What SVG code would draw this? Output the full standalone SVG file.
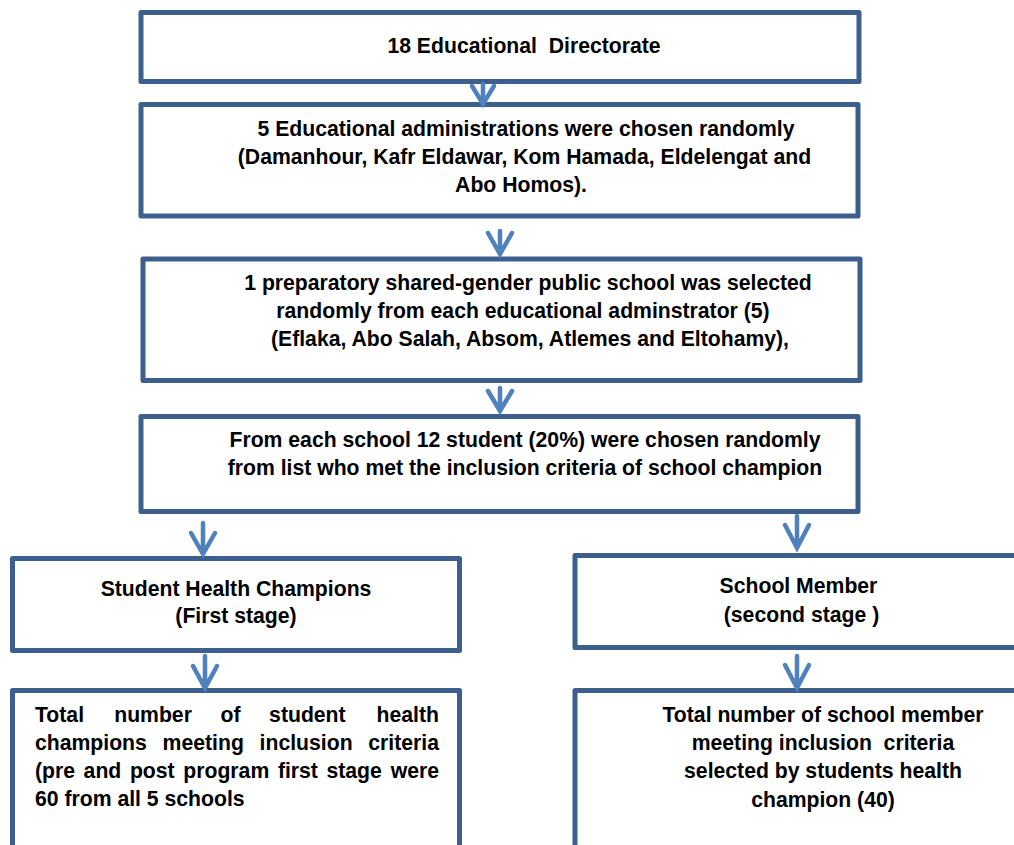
<svg xmlns="http://www.w3.org/2000/svg" width="1014" height="845" viewBox="0 0 1014 845">
<style>
.box{fill:#ffffff;stroke:#3C5F8E;stroke-width:5;stroke-linejoin:round}
.t{font-family:"Liberation Sans",Arial,sans-serif;font-weight:bold;font-size:21.2px;fill:#000000;white-space:pre}
.c{text-anchor:middle}
.arr{fill:none;stroke:#4F81BD;stroke-width:4.5;stroke-linecap:round;stroke-linejoin:miter}
</style>
<rect width="1014" height="845" fill="#ffffff"/>
<g id="n1">
<rect class="box" x="141" y="12.5" width="718" height="69"/>
<text class="t c" x="524" y="53">18 Educational  Directorate</text>
</g>
<g id="n2">
<rect class="box" x="141" y="104.5" width="717" height="111.5"/>
<text class="t c" x="526" y="136">5 Educational administrations were chosen randomly</text>
<text class="t c" x="524.5" y="164">(Damanhour, Kafr Eldawar, Kom Hamada, Eldelengat and</text>
<text class="t c" x="521" y="192">Abo Homos).</text>
</g>
<g id="n3">
<rect class="box" x="143" y="259" width="717" height="121.5"/>
<text class="t c" x="528" y="290">1 preparatory shared-gender public school was selected</text>
<text class="t c" x="523" y="318">randomly from each educational adminstrator (5)</text>
<text class="t c" x="530" y="346">(Eflaka, Abo Salah, Absom, Atlemes and Eltohamy),</text>
</g>
<g id="n4">
<rect class="box" x="141" y="416.5" width="717" height="95"/>
<text class="t c" x="525" y="447">From each school 12 student (20%) were chosen randomly</text>
<text class="t c" x="525" y="475">from list who met the inclusion criteria of school champion</text>
</g>
<g id="n5">
<rect class="box" x="12.5" y="558.5" width="447" height="92"/>
<text class="t c" x="236" y="596">Student Health Champions</text>
<text class="t c" x="236" y="623">(First stage)</text>
</g>
<g id="n6">
<rect class="box" x="575" y="555.5" width="460" height="92"/>
<text class="t c" x="798.5" y="593">School Member</text>
<text class="t c" x="801.5" y="622">(second stage )</text>
</g>
<g id="n7">
<rect class="box" x="12.5" y="690.5" width="447" height="200"/>
<text class="t" y="722"><tspan x="35">Total</tspan><tspan x="114.2">number</tspan><tspan x="220.5">of</tspan><tspan x="269.1">student</tspan><tspan x="439" text-anchor="end">health</tspan></text>
<text class="t" y="750"><tspan x="35">champions</tspan><tspan x="162.6">meeting</tspan><tspan x="259.6">inclusion</tspan><tspan x="439" text-anchor="end">criteria</tspan></text>
<text class="t" y="778"><tspan x="35">(pre</tspan><tspan x="83.6">and</tspan><tspan x="129.9">post</tspan><tspan x="183.3">program</tspan><tspan x="277.9">first</tspan><tspan x="326.5">stage</tspan><tspan x="439" text-anchor="end">were</tspan></text>
<text class="t" x="35" y="806">60 from all 5 schools</text>
</g>
<g id="n8">
<rect class="box" x="575" y="690.5" width="460" height="200"/>
<text class="t c" x="823" y="722">Total number of school member</text>
<text class="t c" x="823" y="750">meeting inclusion  criteria</text>
<text class="t c" x="823" y="778">selected by students health</text>
<text class="t c" x="823" y="807">champion (40)</text>
</g>
<g id="connectors">
<path class="arr" d="M483 84V104M472 86L483 104L494 86"/>
<path class="arr" d="M500 231V254M488 233L500 254L512 233"/>
<path class="arr" d="M500 388V411M488 391L500 411L512 391"/>
<path class="arr" d="M203 523V554M191 533L203 554L215 533"/>
<path class="arr" d="M797 516V548M785 525L797 548L809 525"/>
<path class="arr" d="M205 656V688M193 666L205 688L217 666"/>
<path class="arr" d="M797 656V688M785 665L797 688L809 665"/>
</g>
</svg>
